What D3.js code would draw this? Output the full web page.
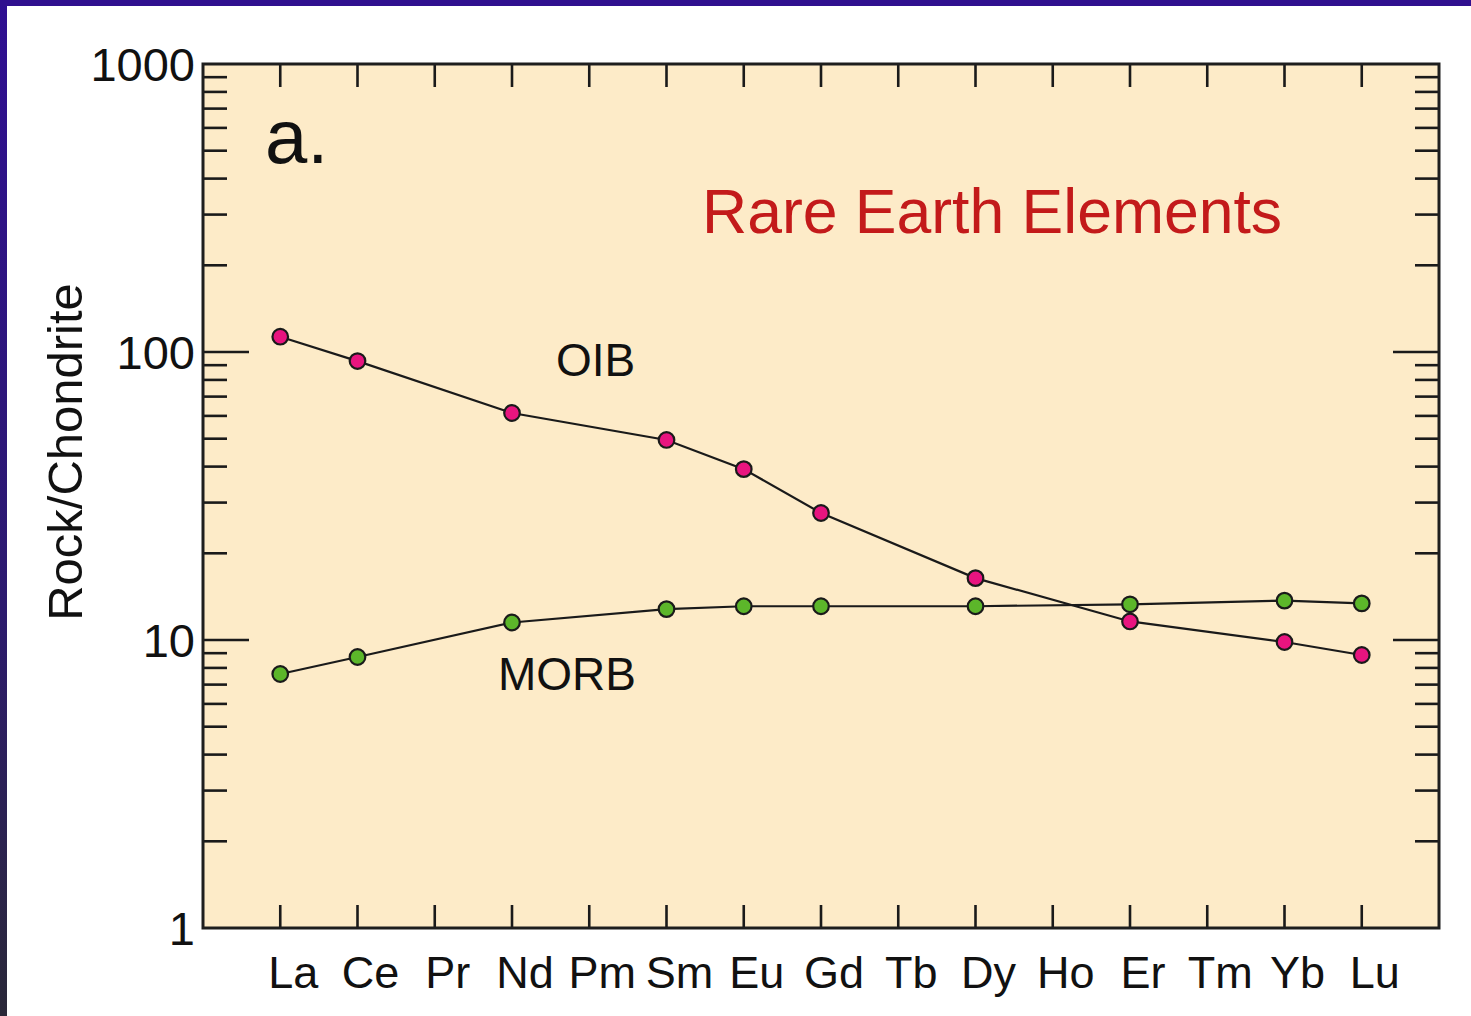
<!DOCTYPE html>
<html>
<head>
<meta charset="utf-8">
<script src="https://cdn.jsdelivr.net/npm/d3@7"></script>
<style>
  html, body { margin: 0; padding: 0; background: #ffffff; }
  svg { display: block; font-family: "Liberation Sans", Arial, Helvetica, sans-serif; }
</style>
</head>
<body>
<svg id="chart" width="1471" height="1016"></svg>
<script>
// Rare earth element sequence (x axis)
const elements = ["La", "Ce", "Pr", "Nd", "Pm", "Sm", "Eu", "Gd", "Tb", "Dy", "Ho", "Er", "Tm", "Yb", "Lu"];

// Chondrite-normalised abundances (null = not analysed)
const oibValues  = [113, 93, null, 61.4, null, 49.5, 39.2, 27.6, null, 16.4, null, 11.6, null, 9.84, 8.87];
const morbValues = [7.62, 8.73, null, 11.5, null, 12.8, 13.1, 13.1, null, 13.1, null, 13.3, null, 13.7, 13.4];

// Y axis labels
const yTickValues = [1, 10, 100, 1000];

const svg = d3.select("#chart");
const W = 1471, H = 1016;
const plot = { left: 203, right: 1439, top: 64, bottom: 928 };

// Frame decoration: top and left bars
const grad = svg.append("defs").append("linearGradient")
  .attr("id", "sideBar").attr("x1", 0).attr("y1", 0).attr("x2", 0).attr("y2", 1);
grad.append("stop").attr("offset", "0%").attr("stop-color", "#2f0f92");
grad.append("stop").attr("offset", "60%").attr("stop-color", "#2c1a6e");
grad.append("stop").attr("offset", "100%").attr("stop-color", "#2a2838");
svg.append("rect").attr("x", 0).attr("y", 0).attr("width", 7).attr("height", H).attr("fill", "url(#sideBar)");
svg.append("rect").attr("x", 0).attr("y", 0).attr("width", W).attr("height", 6).attr("fill", "#30108f");

const x = d3.scalePoint().domain(elements).range([plot.left, plot.right]).padding(1);
const y = d3.scaleLog().domain([1, 1000]).range([plot.bottom, plot.top]);

// Plot background
svg.append("rect")
  .attr("x", plot.left).attr("y", plot.top)
  .attr("width", plot.right - plot.left).attr("height", plot.bottom - plot.top)
  .attr("fill", "#fdebc8");

const g = svg.append("g");

// Y ticks: majors at decades, minors at 2..9 of each decade (both sides)
const minorVals = [];
[1, 10, 100].forEach(d => { for (let k = 2; k <= 9; k++) minorVals.push(d * k); });
const majorInner = [10, 100];
const tickStroke = "#1a1a1a";

[[plot.left, 1], [plot.right, -1]].forEach(([x0, dir]) => {
  g.selectAll(null).data(minorVals).enter().append("line")
    .attr("x1", x0).attr("x2", x0 + dir * 24)
    .attr("y1", d => y(d)).attr("y2", d => y(d))
    .attr("stroke", tickStroke).attr("stroke-width", 2.6);
  g.selectAll(null).data(majorInner).enter().append("line")
    .attr("x1", x0).attr("x2", x0 + dir * 46)
    .attr("y1", d => y(d)).attr("y2", d => y(d))
    .attr("stroke", tickStroke).attr("stroke-width", 2.6);
});

// X ticks on top and bottom edges
g.selectAll(null).data(elements).enter().append("line")
  .attr("x1", d => x(d)).attr("x2", d => x(d))
  .attr("y1", plot.top).attr("y2", plot.top + 23)
  .attr("stroke", tickStroke).attr("stroke-width", 2.6);
g.selectAll(null).data(elements).enter().append("line")
  .attr("x1", d => x(d)).attr("x2", d => x(d))
  .attr("y1", plot.bottom).attr("y2", plot.bottom - 23)
  .attr("stroke", tickStroke).attr("stroke-width", 2.6);

// Plot frame
svg.append("rect")
  .attr("x", plot.left).attr("y", plot.top)
  .attr("width", plot.right - plot.left).attr("height", plot.bottom - plot.top)
  .attr("fill", "none").attr("stroke", "#1e1e1e").attr("stroke-width", 3);

// Y tick labels
svg.selectAll(null).data(yTickValues).enter().append("text")
  .attr("x", 195).attr("y", d => y(d) + 17)
  .attr("text-anchor", "end")
  .attr("font-size", 47).attr("fill", "#111")
  .text(d => d);

// X tick labels (set slightly right of their ticks)
svg.selectAll(null).data(elements).enter().append("text")
  .attr("x", d => x(d) + 13).attr("y", 988)
  .attr("text-anchor", "middle")
  .attr("font-size", 45).attr("fill", "#111")
  .text(d => d);

// Y axis title
svg.append("text")
  .attr("transform", "translate(82,452) rotate(-90)")
  .attr("text-anchor", "middle")
  .attr("font-size", 49).attr("fill", "#111")
  .text("Rock/Chondrite");

// Panel letter and title
svg.append("text").attr("x", 265).attr("y", 163)
  .attr("font-size", 76).attr("fill", "#111").text("a.");
svg.append("text").attr("x", 702).attr("y", 233)
  .attr("font-size", 62.5).attr("fill", "#c31a1a").text("Rare Earth Elements");

// Series
const series = [
  { name: "OIB", values: oibValues, color: "#e8147f", label: { x: 556, y: 376 } },
  { name: "MORB", values: morbValues, color: "#5cb62a", label: { x: 498, y: 690 } }
];

const line = d3.line()
  .x(d => x(d.el))
  .y(d => y(d.v));

series.forEach(s => {
  const pts = elements.map((el, i) => ({ el, v: s.values[i] })).filter(d => d.v != null);
  svg.append("path").datum(pts)
    .attr("d", line).attr("fill", "none")
    .attr("stroke", "#1a1a1a").attr("stroke-width", 2.2);
  s.pts = pts;
});

series.forEach(s => {
  svg.selectAll(null).data(s.pts).enter().append("circle")
    .attr("cx", d => x(d.el)).attr("cy", d => y(d.v))
    .attr("r", 7.8)
    .attr("fill", s.color).attr("stroke", "#1a1a1a").attr("stroke-width", 2.2);
  svg.append("text").attr("x", s.label.x).attr("y", s.label.y)
    .attr("font-size", 46).attr("fill", "#111").text(s.name);
});
</script>
</body>
</html>
